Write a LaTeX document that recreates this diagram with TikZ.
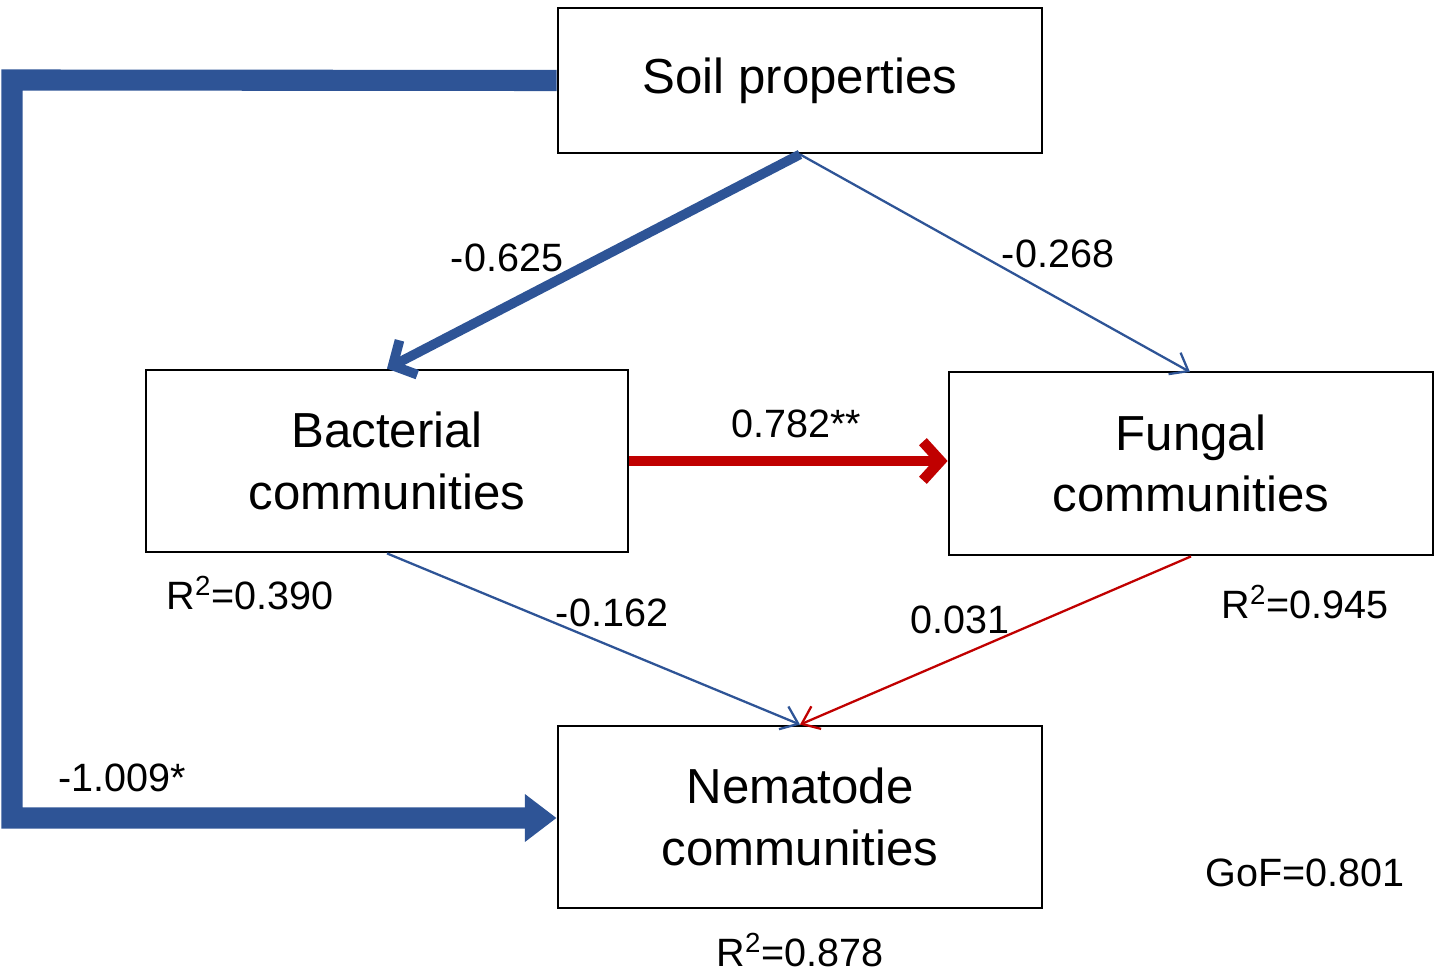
\documentclass[tikz,border=0pt]{standalone}
\usepackage{fontspec}
\setmainfont{Liberation Sans}
\usetikzlibrary{arrows.meta}
\definecolor{bl}{RGB}{46,84,150}
\definecolor{rd}{RGB}{192,0,0}
\begin{document}
\begin{tikzpicture}[x=0.02cm,y=-0.02cm,
 box/.style={draw,line width=1.6pt,inner sep=0pt,font=\fontsize{28}{35}\selectfont,align=center},
 lab/.style={font=\fontsize{22.5}{27}\selectfont},
 thin/.style={line width=1.3pt,-{Straight Barb[length=9pt,width=14pt]}},
 thick/.style={line width=5pt,-{Straight Barb[length=8pt,width=16pt]}}]
\useasboundingbox (0,0) rectangle (1441,973);
\node[box,minimum width=484*0.02cm,minimum height=145*0.02cm] (s) at (800,80.5) {Soil properties};
\node[box,minimum width=482*0.02cm,minimum height=182*0.02cm] (b) at (387,461) {Bacterial\\communities};
\node[box,minimum width=484*0.02cm,minimum height=183*0.02cm] (f) at (1191,463.5) {Fungal\\communities};
\node[box,minimum width=484*0.02cm,minimum height=182*0.02cm] (n) at (800,817) {Nematode\\communities};
\coordinate (c1) at (12,80);
\coordinate (c2) at (12,818);
\draw[bl,line width=5.5pt,-{Straight Barb[length=10pt,width=22pt]}] (s.south) -- (b.north);
\draw[bl,thin] (s.south) -- (1190,372);
\draw[rd,line width=6pt,-{Straight Barb[length=10pt,width=22pt]}] (b.east|-0,461) -- (f.west|-0,461);
\draw[bl,thin] (b.south) -- (n.north);
\draw[rd,thin] (f.south) -- (n.north);
\draw[bl,line width=12pt,-{Triangle[length=18pt,width=26pt]}] (s.west) -- (c1) -- (c2) -- (n.west|-c2);
\node[lab] (l1) at (507,258) {-0.625};
\node[lab] (l2) at (1058,254) {-0.268};
\node[lab] (l3) at (796,424) {0.782**};
\node[lab] (l4) at (612,613) {-0.162};
\node[lab] (l5) at (960,620) {0.031};
\node[lab] (l6) at (122,778) {-1.009*};
\node[lab] (r1) at (250,593) {R\textsuperscript{2}=0.390};
\node[lab] (r2) at (1305,602) {R\textsuperscript{2}=0.945};
\node[lab] (r3) at (800,950) {R\textsuperscript{2}=0.878};
\node[lab] (g) at (1305,873) {GoF=0.801};
\end{tikzpicture}
\end{document}
